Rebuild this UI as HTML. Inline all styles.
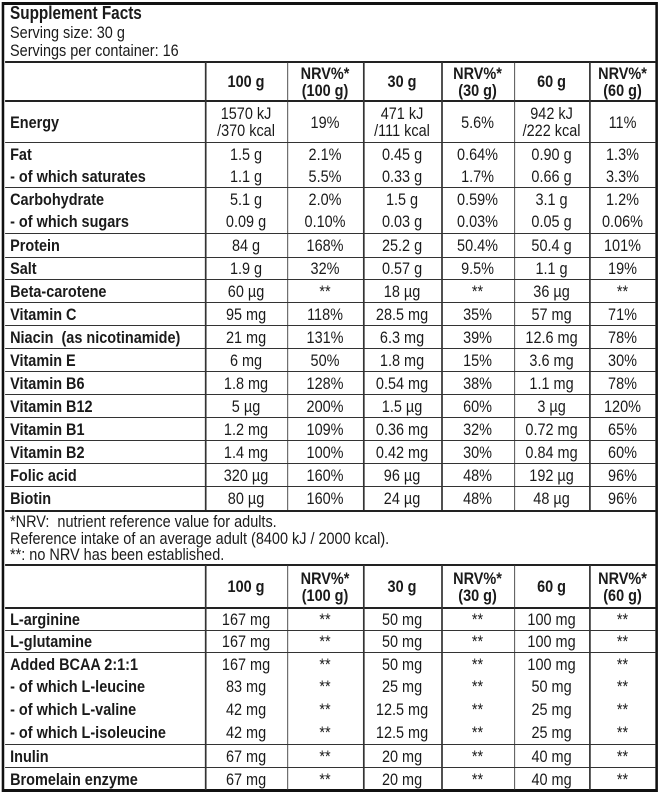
<!DOCTYPE html>
<html><head><meta charset="utf-8">
<style>
*{margin:0;padding:0;box-sizing:border-box}
body{width:660px;height:793px;background:#fff;position:relative;overflow:hidden;font-family:"Liberation Sans",sans-serif;color:#1a1a1a;font-size:17px}
#w{position:absolute;left:0;top:0;width:777px;height:793px;transform:scaleX(0.85);transform-origin:0 0}
.frame{position:absolute;left:2.4px;top:2px;width:772px;height:790px;border-style:solid;border-color:#111;border-width:3px 3.5px}
.t{position:absolute;left:11.8px;line-height:17px}
.r{position:absolute;left:5.9px;width:766px;display:flex;align-items:center}
.r.l{border-top:1.5px solid #333}
.r.h{border-top:2px solid #222}
.c{text-align:center;line-height:17px}
.c0{width:235.3px;padding-left:6px;font-weight:bold;text-align:left}
.c1{width:96.5px}.c2{width:89.4px}.c3{width:91.8px}.c4{width:85.9px}.c5{width:88.2px}.c6{width:78.8px}
.b{font-weight:bold}
.v{position:absolute;width:1.8px;background:#333}
</style></head><body><div id="w">
<div class="frame"></div>
<div class="t b" style="top:5px;font-size:18px">Supplement Facts</div>
<div class="t" style="top:24px">Serving size: 30 g</div>
<div class="t" style="top:42px">Servings per container: 16</div>

<div class="r h" style="top:61px;height:39px"><div class="c c0"></div><div class="c c1 b">100 g</div><div class="c c2 b">NRV%*<br>(100 g)</div><div class="c c3 b">30 g</div><div class="c c4 b">NRV%*<br>(30 g)</div><div class="c c5 b">60 g</div><div class="c c6 b">NRV%*<br>(60 g)</div></div>
<div class="r h" style="top:100px;height:42px"><div class="c c0">Energy</div><div class="c c1">1570 kJ<br>/370 kcal</div><div class="c c2">19%</div><div class="c c3">471 kJ<br>/111 kcal</div><div class="c c4">5.6%</div><div class="c c5">942 kJ<br>/222 kcal</div><div class="c c6">11%</div></div>
<div class="r l" style="top:142px;height:23px"><div class="c c0">Fat</div><div class="c c1">1.5 g</div><div class="c c2">2.1%</div><div class="c c3">0.45 g</div><div class="c c4">0.64%</div><div class="c c5">0.90 g</div><div class="c c6">1.3%</div></div>
<div class="r" style="top:165px;height:22px"><div class="c c0">- of which saturates</div><div class="c c1">1.1 g</div><div class="c c2">5.5%</div><div class="c c3">0.33 g</div><div class="c c4">1.7%</div><div class="c c5">0.66 g</div><div class="c c6">3.3%</div></div>
<div class="r l" style="top:187px;height:23px"><div class="c c0">Carbohydrate</div><div class="c c1">5.1 g</div><div class="c c2">2.0%</div><div class="c c3">1.5 g</div><div class="c c4">0.59%</div><div class="c c5">3.1 g</div><div class="c c6">1.2%</div></div>
<div class="r" style="top:210px;height:23px"><div class="c c0">- of which sugars</div><div class="c c1">0.09 g</div><div class="c c2">0.10%</div><div class="c c3">0.03 g</div><div class="c c4">0.03%</div><div class="c c5">0.05 g</div><div class="c c6">0.06%</div></div>
<div class="r l" style="top:233px;height:24px"><div class="c c0">Protein</div><div class="c c1">84 g</div><div class="c c2">168%</div><div class="c c3">25.2 g</div><div class="c c4">50.4%</div><div class="c c5">50.4 g</div><div class="c c6">101%</div></div>
<div class="r l" style="top:257px;height:22px"><div class="c c0">Salt</div><div class="c c1">1.9 g</div><div class="c c2">32%</div><div class="c c3">0.57 g</div><div class="c c4">9.5%</div><div class="c c5">1.1 g</div><div class="c c6">19%</div></div>
<div class="r l" style="top:279px;height:23px"><div class="c c0">Beta-carotene</div><div class="c c1">60 µg</div><div class="c c2">**</div><div class="c c3">18 µg</div><div class="c c4">**</div><div class="c c5">36 µg</div><div class="c c6">**</div></div>
<div class="r l" style="top:302px;height:23px"><div class="c c0">Vitamin C</div><div class="c c1">95 mg</div><div class="c c2">118%</div><div class="c c3">28.5 mg</div><div class="c c4">35%</div><div class="c c5">57 mg</div><div class="c c6">71%</div></div>
<div class="r l" style="top:325px;height:23px"><div class="c c0">Niacin&nbsp; (as nicotinamide)</div><div class="c c1">21 mg</div><div class="c c2">131%</div><div class="c c3">6.3 mg</div><div class="c c4">39%</div><div class="c c5">12.6 mg</div><div class="c c6">78%</div></div>
<div class="r l" style="top:348px;height:23px"><div class="c c0">Vitamin E</div><div class="c c1">6 mg</div><div class="c c2">50%</div><div class="c c3">1.8 mg</div><div class="c c4">15%</div><div class="c c5">3.6 mg</div><div class="c c6">30%</div></div>
<div class="r l" style="top:371px;height:23px"><div class="c c0">Vitamin B6</div><div class="c c1">1.8 mg</div><div class="c c2">128%</div><div class="c c3">0.54 mg</div><div class="c c4">38%</div><div class="c c5">1.1 mg</div><div class="c c6">78%</div></div>
<div class="r l" style="top:394px;height:23px"><div class="c c0">Vitamin B12</div><div class="c c1">5 µg</div><div class="c c2">200%</div><div class="c c3">1.5 µg</div><div class="c c4">60%</div><div class="c c5">3 µg</div><div class="c c6">120%</div></div>
<div class="r l" style="top:417px;height:23px"><div class="c c0">Vitamin B1</div><div class="c c1">1.2 mg</div><div class="c c2">109%</div><div class="c c3">0.36 mg</div><div class="c c4">32%</div><div class="c c5">0.72 mg</div><div class="c c6">65%</div></div>
<div class="r l" style="top:440px;height:23px"><div class="c c0">Vitamin B2</div><div class="c c1">1.4 mg</div><div class="c c2">100%</div><div class="c c3">0.42 mg</div><div class="c c4">30%</div><div class="c c5">0.84 mg</div><div class="c c6">60%</div></div>
<div class="r l" style="top:463px;height:23px"><div class="c c0">Folic acid</div><div class="c c1">320 µg</div><div class="c c2">160%</div><div class="c c3">96 µg</div><div class="c c4">48%</div><div class="c c5">192 µg</div><div class="c c6">96%</div></div>
<div class="r l" style="top:486px;height:24px"><div class="c c0">Biotin</div><div class="c c1">80 µg</div><div class="c c2">160%</div><div class="c c3">24 µg</div><div class="c c4">48%</div><div class="c c5">48 µg</div><div class="c c6">96%</div></div>
<div class="r h" style="top:510px;height:2px"></div>
<div class="t" style="top:513px">*NRV:&nbsp; nutrient reference value for adults.</div>
<div class="t" style="top:530px">Reference intake of an average adult (8400 kJ / 2000 kcal).</div>
<div class="t" style="top:546px">**: no NRV has been established.</div>

<div class="r h" style="top:564px;height:43px"><div class="c c0"></div><div class="c c1 b">100 g</div><div class="c c2 b">NRV%*<br>(100 g)</div><div class="c c3 b">30 g</div><div class="c c4 b">NRV%*<br>(30 g)</div><div class="c c5 b">60 g</div><div class="c c6 b">NRV%*<br>(60 g)</div></div>
<div class="r h" style="top:607px;height:23px"><div class="c c0">L-arginine</div><div class="c c1">167 mg</div><div class="c c2">**</div><div class="c c3">50 mg</div><div class="c c4">**</div><div class="c c5">100 mg</div><div class="c c6">**</div></div>
<div class="r l" style="top:630px;height:22px"><div class="c c0">L-glutamine</div><div class="c c1">167 mg</div><div class="c c2">**</div><div class="c c3">50 mg</div><div class="c c4">**</div><div class="c c5">100 mg</div><div class="c c6">**</div></div>
<div class="r l" style="top:652px;height:23px"><div class="c c0">Added BCAA 2:1:1</div><div class="c c1">167 mg</div><div class="c c2">**</div><div class="c c3">50 mg</div><div class="c c4">**</div><div class="c c5">100 mg</div><div class="c c6">**</div></div>
<div class="r" style="top:675px;height:23px"><div class="c c0">- of which L-leucine</div><div class="c c1">83 mg</div><div class="c c2">**</div><div class="c c3">25 mg</div><div class="c c4">**</div><div class="c c5">50 mg</div><div class="c c6">**</div></div>
<div class="r" style="top:698px;height:23px"><div class="c c0">- of which L-valine</div><div class="c c1">42 mg</div><div class="c c2">**</div><div class="c c3">12.5 mg</div><div class="c c4">**</div><div class="c c5">25 mg</div><div class="c c6">**</div></div>
<div class="r" style="top:721px;height:23px"><div class="c c0">- of which L-isoleucine</div><div class="c c1">42 mg</div><div class="c c2">**</div><div class="c c3">12.5 mg</div><div class="c c4">**</div><div class="c c5">25 mg</div><div class="c c6">**</div></div>
<div class="r l" style="top:744px;height:23px"><div class="c c0">Inulin</div><div class="c c1">67 mg</div><div class="c c2">**</div><div class="c c3">20 mg</div><div class="c c4">**</div><div class="c c5">40 mg</div><div class="c c6">**</div></div>
<div class="r l" style="top:767px;height:23px"><div class="c c0">Bromelain enzyme</div><div class="c c1">67 mg</div><div class="c c2">**</div><div class="c c3">20 mg</div><div class="c c4">**</div><div class="c c5">40 mg</div><div class="c c6">**</div></div>

<div class="v" style="left:241.2px;top:62px;height:448px"></div>
<div class="v" style="left:337.6px;top:62px;height:448px"></div>
<div class="v" style="left:427.1px;top:62px;height:448px"></div>
<div class="v" style="left:518.8px;top:62px;height:448px"></div>
<div class="v" style="left:604.7px;top:62px;height:448px"></div>
<div class="v" style="left:693px;top:62px;height:448px"></div>
<div class="v" style="left:241.2px;top:565px;height:225px"></div>
<div class="v" style="left:337.6px;top:565px;height:225px"></div>
<div class="v" style="left:427.1px;top:565px;height:225px"></div>
<div class="v" style="left:518.8px;top:565px;height:225px"></div>
<div class="v" style="left:604.7px;top:565px;height:225px"></div>
<div class="v" style="left:693px;top:565px;height:225px"></div>
</div></body></html>
